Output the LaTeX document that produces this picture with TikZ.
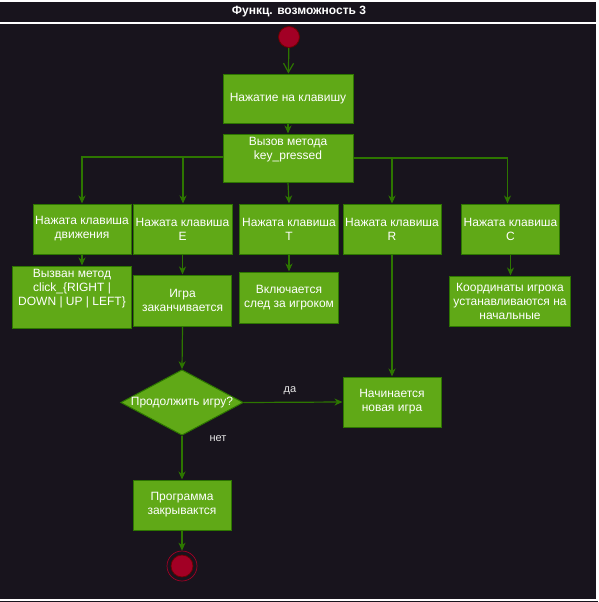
\documentclass[tikz,border=0pt]{standalone}
\usepackage{fontspec}
\setmainfont{Liberation Sans}
\usetikzlibrary{arrows.meta,shapes.geometric}
\definecolor{bg}{HTML}{18141D}
\definecolor{gfill}{HTML}{60A917}
\definecolor{gline}{HTML}{2D7600}
\definecolor{rfill}{HTML}{A20025}
\definecolor{rline}{HTML}{6F0000}
\tikzset{
  box/.style={rectangle, fill=gfill, draw=gline, line width=1pt, inner sep=0pt,
    text=white, align=center, font=\fontsize{12}{14}\selectfont},
  txt/.style={text=white, align=center, inner sep=0pt, font=\fontsize{12}{14}\selectfont},
  lbl/.style={text=white!90!black, inner sep=0pt, font=\fontsize{11}{13}\selectfont},
  arr/.style={draw=gline, line width=1.2pt, -{Stealth[length=8pt,width=7pt,inset=2.5pt]}},
  openarr/.style={draw=gline, line width=1.2pt, -{Straight Barb[length=9pt,width=10pt]}},
  decision/.style={diamond, fill=gfill, draw=gline, line width=1pt, inner sep=0pt,
    minimum width=118pt, minimum height=63pt, aspect=1.87, text=white,
    font=\fontsize{12}{14}\selectfont}
}
\begin{document}
\begin{tikzpicture}[x=1pt,y=-1pt]
\useasboundingbox (0,0) rectangle (598,602);
\fill[bg] (0,0) rectangle (598,602);
% frame
\draw[white, line width=1.2pt] (0,1) -- (597,1) -- (597,600) -- (0,600);
\draw[white, line width=1.2pt] (0,23) -- (597,23);
\node[text=white, inner sep=0pt, font=\bfseries\fontsize{12}{14}\selectfont] (title) at (299,12) {Функц. возможность 3};
% start
\node[circle, fill=rfill, draw=rline, line width=0.8pt, minimum size=21pt, inner sep=0pt] (start) at (289,37) {};
% main boxes
\node[box, minimum width=130pt, minimum height=49pt] (b1) at (288,98.5) {Нажатие на клавишу};
\node[box, minimum width=130pt, minimum height=48pt] (b2) at (288,158) {};
\node[txt] (b2t) at (288,150) {Вызов метода\\key\_pressed};
% row 1
\node[box, minimum width=98pt, minimum height=50pt] (m) at (82,229) {Нажата клавиша\\движения};
\node[box, minimum width=99pt, minimum height=50pt] (e) at (182.5,229) {Нажата клавиша\\E};
\node[box, minimum width=98.5pt, minimum height=50pt] (t) at (289,229) {Нажата клавиша\\T};
\node[box, minimum width=98pt, minimum height=50pt] (r) at (392,229) {Нажата клавиша\\R};
\node[box, minimum width=98pt, minimum height=50pt] (c) at (510.5,229) {Нажата клавиша\\C};
% row 2
\node[box, minimum width=118.5pt, minimum height=62pt] (v) at (72,297) {};
\node[txt] (vt) at (72,289) {Вызван метод\\click\_\{RIGHT |\\DOWN | UP | LEFT\}};
\node[box, minimum width=98.5pt, minimum height=51pt] (g) at (182.5,300.5) {Игра\\заканчивается};
\node[box, minimum width=98.5pt, minimum height=51pt] (s) at (289,297.5) {Включается\\след за игроком};
\node[box, minimum width=120.5pt, minimum height=50pt] (k) at (510,301) {Координаты игрока\\устанавливаются на\\начальные};
% decision and ends
\node[decision] (d) at (182,402.5) {Продолжить игру?};
\node[box, minimum width=98pt, minimum height=50pt] (n) at (392,402) {Начинается\\новая игра};
\node[box, minimum width=98pt, minimum height=50pt] (p) at (182,505) {Программа\\закрывактся};
\node[circle, draw=rfill, line width=0.7pt, minimum size=30pt, inner sep=0pt] (endo) at (182,566) {};
\node[circle, fill=rfill, draw=rline, line width=0.7pt, minimum size=22pt, inner sep=0pt] (endi) at (182,566) {};
% connectors
\draw[openarr] (start) -- (b1);
\draw[arr] (b1) -- (b2);
\draw[arr] ([yshift=1pt]b2.west) -| (m.north);
\draw[arr] ([yshift=1pt]b2.west) -| ([xshift=0.5pt]e.north);
\draw[arr] (b2.south) -- (t.north);
\draw[arr] (b2.east) -| (r.north);
\draw[arr] (b2.east) -| ([xshift=-3pt]c.north);
\draw[arr] (m.south) -- (m.south |- v.north);
\draw[arr] (e.south) -- (e.south |- g.north);
\draw[arr] (t.south) -- (s.north);
\draw[arr] (c.south) -- (c.south |- k.north);
\draw[arr] (g.south) -- (d.north);
\draw[arr] (r.south) -- (n.north);
\draw[arr] (d.east) -- (n.west);
\node[lbl] (da) at (290,391) {да};
\draw[arr] (d.south) -- (p.north);
\node[lbl] (net) at (218,439) {нет};
\draw[arr] (p.south) -- (endo.north);
\end{tikzpicture}
\end{document}
